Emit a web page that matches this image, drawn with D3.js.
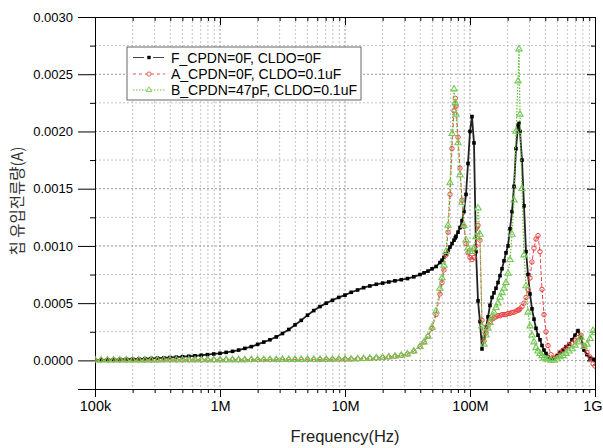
<!DOCTYPE html>
<html>
<head>
<meta charset="utf-8">
<script src="https://cdn.jsdelivr.net/npm/d3@7.9.0/dist/d3.min.js"></script>
<style>
  body { margin: 0; background: #fff; }
  svg { display: block; font-family: "Liberation Sans", Arial, sans-serif; }
</style>
</head>
<body>
<svg id="chart" width="603" height="448"></svg>
<script>
// frequency points (MHz), shared by all three traces
const freqMHz = [
  0.1, 0.112, 0.126, 0.141, 0.158, 0.178, 0.2, 0.224, 0.251, 0.282, 0.316, 0.355, 0.398, 0.447, 0.501, 0.562, 0.631, 0.708, 0.794, 0.891,
  1, 1.12, 1.26, 1.41, 1.58, 1.78, 2, 2.24, 2.51, 2.82, 3.16, 3.55, 3.98, 4.47, 5.01, 5.62, 6.31, 7.08, 7.94, 8.91,
  10, 11.2, 12.6, 14.1, 15.8, 17.8, 20, 22.4, 25.1, 28.2, 31.6, 35.5,
  39.8, 42.9, 46.1, 49.7, 53.5, 57.5, 59.7, 61.9, 64.3, 66.7, 69.2, 71.8, 74.5, 76.3, 77.3, 80.2, 83.2, 86.3, 89.5, 92.9, 96.4,
  100, 103.7, 107.6, 111.7, 115.9, 120.2, 124.7, 129.4, 134.3, 139.3, 144.5, 150, 155.6, 161.4, 167.5, 173.8, 180.3, 187.1, 194.1,
  201.4, 209, 216.8, 225, 233.4, 242.2, 246.7, 251.2, 260.6, 270.4, 280.6, 291.1, 302, 313.3, 325.1, 337.3, 350, 363.1, 376.7, 390.8,
  405.5, 420.7, 444.6, 469.9, 496.6, 524.8, 554.6, 586.1, 619.4, 654.6, 691.8, 731.1, 772.7, 816.6, 863, 912, 963.8, 1000
];

// currents in mA
const fCur = [
  0.004, 0.005, 0.006, 0.007, 0.008, 0.010, 0.012, 0.013, 0.015, 0.017, 0.020, 0.022, 0.025, 0.028, 0.032, 0.036, 0.040, 0.045, 0.050, 0.056,
  0.062, 0.070, 0.079, 0.090, 0.105, 0.120, 0.140, 0.160, 0.180, 0.205, 0.235, 0.270, 0.310, 0.350, 0.395, 0.435, 0.470, 0.500, 0.525, 0.550,
  0.570, 0.595, 0.615, 0.635, 0.650, 0.665, 0.675, 0.685, 0.695, 0.705, 0.715, 0.730,
  0.750, 0.765, 0.780, 0.800, 0.820, 0.855, 0.875, 0.900, 0.930, 0.960, 0.990, 1.020, 1.050, 1.070, 1.085, 1.120, 1.160, 1.220, 1.300, 1.450, 1.720,
  2.000, 2.130, 1.900, 0.950, 0.520, 0.340, 0.100, 0.200, 0.290, 0.380, 0.480, 0.550, 0.590, 0.630, 0.680, 0.740, 0.800, 0.870, 0.940,
  1.000, 1.150, 1.300, 1.520, 1.850, 2.050, 2.070, 2.000, 1.750, 1.350, 0.950, 0.750, 0.580, 0.450, 0.360, 0.280, 0.220, 0.180, 0.130, 0.090,
  0.060, 0.030, 0.010, 0.020, 0.040, 0.070, 0.090, 0.120, 0.140, 0.180, 0.220, 0.260, 0.200, 0.090, 0.050, 0.020, 0.010, 0.000
];

const aCur = [
  0.003, 0.003, 0.003, 0.003, 0.003, 0.003, 0.003, 0.003, 0.003, 0.003, 0.003, 0.004, 0.004, 0.004, 0.004, 0.004, 0.004, 0.004, 0.004, 0.004,
  0.005, 0.005, 0.005, 0.005, 0.005, 0.006, 0.006, 0.006, 0.006, 0.006, 0.007, 0.007, 0.007, 0.007, 0.008, 0.008, 0.008, 0.009, 0.009, 0.010,
  0.010, 0.011, 0.013, 0.015, 0.018, 0.021, 0.025, 0.030, 0.036, 0.044, 0.055, 0.080,
  0.120, 0.160, 0.210, 0.280, 0.400, 0.580, 0.680, 0.790, 0.920, 1.120, 1.450, 1.850, 2.180, 2.290, 2.220, 1.950, 1.680, 1.400, 1.170, 1.020, 0.940,
  0.900, 0.880, 0.900, 1.000, 1.180, 1.050, 0.350, 0.170, 0.240, 0.300, 0.340, 0.360, 0.370, 0.380, 0.390, 0.390, 0.400, 0.400, 0.400,
  0.410, 0.410, 0.420, 0.420, 0.430, 0.440, 0.440, 0.450, 0.470, 0.500, 0.550, 0.620, 0.720, 0.860, 0.980, 1.060, 1.090, 0.950, 0.620, 0.400,
  0.250, 0.130, 0.050, 0.020, 0.040, 0.070, 0.090, 0.110, 0.130, 0.150, 0.170, 0.200, 0.220, 0.130, 0.070, 0.030, -0.030, -0.050
];

const bCur = [
  0.003, 0.003, 0.003, 0.003, 0.003, 0.003, 0.003, 0.003, 0.003, 0.003, 0.003, 0.004, 0.004, 0.004, 0.004, 0.004, 0.004, 0.004, 0.004, 0.004,
  0.005, 0.005, 0.005, 0.005, 0.005, 0.006, 0.006, 0.006, 0.006, 0.006, 0.007, 0.007, 0.007, 0.007, 0.008, 0.008, 0.008, 0.009, 0.009, 0.010,
  0.010, 0.011, 0.013, 0.015, 0.018, 0.021, 0.025, 0.030, 0.036, 0.044, 0.055, 0.080,
  0.120, 0.160, 0.210, 0.290, 0.430, 0.630, 0.720, 0.830, 0.950, 1.180, 1.550, 1.980, 2.370, 2.250, 2.150, 1.900, 1.620, 1.380, 1.180, 1.050, 0.980,
  0.950, 0.950, 0.980, 1.080, 1.330, 1.100, 0.300, 0.140, 0.220, 0.280, 0.330, 0.380, 0.420, 0.460, 0.500, 0.550, 0.590, 0.630, 0.680,
  0.760, 0.880, 1.100, 1.400, 2.000, 2.440, 2.720, 2.150, 1.500, 0.920, 0.650, 0.420, 0.300, 0.220, 0.160, 0.110, 0.080, 0.060, 0.040, 0.020,
  0.010, 0.010, 0.000, 0.000, 0.010, 0.030, 0.040, 0.060, 0.080, 0.100, 0.130, 0.160, 0.200, 0.120, 0.140, 0.190, 0.260, 0.240
];

const seriesNames = ["F_CPDN=0F, CLDO=0F", "A_CPDN=0F, CLDO=0.1uF", "B_CPDN=47pF, CLDO=0.1uF"];
const xTickValues = [1e5, 1e6, 1e7, 1e8, 1e9];
const xTickLabels = ["100k", "1M", "10M", "100M", "1G"];
const yTickValues = [0, 0.0005, 0.001, 0.0015, 0.002, 0.0025, 0.003];
const yMinorValues = [-0.00025, 0.00025, 0.00075, 0.00125, 0.00175, 0.00225, 0.00275];

const plotL = 95, plotR = 595, plotT = 17, plotB = 389;
const svg = d3.select('#chart');

const x = d3.scaleLog().domain([1e5, 1e9]).range([plotL, plotR]);
const y = d3.scaleLinear().domain([-0.00025, 0.003]).range([plotB, plotT]);

// minor log ticks 2..9 per decade
let xMinor = [];
xTickValues.slice(0, -1).forEach(d => {
  for (let k = 2; k <= 9; k++) xMinor.push(d * k);
});

// grid
const grid = svg.append('g');
xMinor.concat(xTickValues.slice(1, -1)).forEach(v => {
  grid.append('line')
    .attr('x1', x(v)).attr('x2', x(v)).attr('y1', plotT).attr('y2', plotB)
    .attr('stroke', xTickValues.includes(v) ? '#999' : '#c4c4c4')
    .attr('stroke-dasharray', '2,2');
});
yTickValues.slice(0, -1).concat(yMinorValues.slice(1)).forEach(v => {
  grid.append('line')
    .attr('x1', plotL).attr('x2', plotR).attr('y1', y(v)).attr('y2', y(v))
    .attr('stroke', yTickValues.includes(v) ? '#999' : '#c4c4c4')
    .attr('stroke-dasharray', '2,2');
});

// axes
function styleAxis(g) {
  g.selectAll('.domain').attr('stroke', '#000');
  g.selectAll('.tick line').attr('stroke', '#000');
  g.selectAll('text').attr('fill', '#000');
}

svg.append('g').attr('transform', `translate(0,${plotB})`)
  .call(d3.axisBottom(x).tickValues(xTickValues).tickSize(8).tickPadding(4)
    .tickFormat((d, i) => xTickLabels[i]))
  .call(g => g.selectAll('text').attr('font-size', 14.5).attr('font-family', '"Liberation Sans", Arial, sans-serif'))
  .call(g => g.selectAll('text').filter(d => d === 1e9).attr('text-anchor', 'end').attr('dx', 7))
  .call(styleAxis);
svg.append('g').attr('transform', `translate(0,${plotB})`)
  .call(d3.axisBottom(x).tickValues(xMinor).tickSize(4).tickFormat(''))
  .call(g => g.select('.domain').remove()).call(styleAxis);

svg.append('g').attr('transform', `translate(0,${plotT})`)
  .call(d3.axisTop(x).tickValues(xTickValues).tickSizeInner(-8).tickSizeOuter(0).tickFormat(''))
  .call(styleAxis);
svg.append('g').attr('transform', `translate(0,${plotT})`)
  .call(d3.axisTop(x).tickValues(xMinor).tickSizeInner(-4).tickSizeOuter(0).tickFormat(''))
  .call(g => g.select('.domain').remove()).call(styleAxis);

svg.append('g').attr('transform', `translate(${plotL},0)`)
  .call(d3.axisLeft(y).tickValues(yTickValues).tickSize(17).tickPadding(5).tickFormat(d3.format('.4f')))
  .call(g => g.selectAll('text').attr('font-size', 13).attr('font-family', '"Liberation Sans", Arial, sans-serif'))
  .call(styleAxis);
svg.append('g').attr('transform', `translate(${plotL},0)`)
  .call(d3.axisLeft(y).tickValues(yMinorValues).tickSize(5).tickFormat(''))
  .call(g => g.select('.domain').remove()).call(styleAxis);

svg.append('g').attr('transform', `translate(${plotR},0)`)
  .call(d3.axisRight(y).tickValues(yTickValues).tickSizeInner(-8).tickSizeOuter(0).tickFormat(''))
  .call(styleAxis);
svg.append('g').attr('transform', `translate(${plotR},0)`)
  .call(d3.axisRight(y).tickValues(yMinorValues).tickSizeInner(-4).tickSizeOuter(0).tickFormat(''))
  .call(g => g.select('.domain').remove()).call(styleAxis);

// axis titles
svg.append('text')
  .attr('x', (plotL + plotR) / 2).attr('y', 442)
  .attr('text-anchor', 'middle').attr('font-size', 16.5).attr('fill', '#222')
  .text('Frequency(Hz)');
svg.append('text')
  .attr('transform', 'translate(23,201) rotate(-90)')
  .attr('text-anchor', 'middle').attr('font-size', 15.5)
  .attr('font-family', '"Noto Sans CJK KR", sans-serif').attr('fill', '#333')
  .text('칩 유입전류량(A)');

// traces
svg.append('clipPath').attr('id', 'plotclip')
  .append('rect').attr('x', plotL).attr('y', plotT).attr('width', plotR - plotL).attr('height', plotB - plotT);
const plot = svg.append('g').attr('clip-path', 'url(#plotclip)');

const idx = d3.range(freqMHz.length);
const lineOf = vals => d3.line()
  .x(i => x(freqMHz[i] * 1e6))
  .y(i => y(vals[i] * 1e-3));

// F: black squares
plot.append('path').attr('d', lineOf(fCur)(idx))
  .attr('fill', 'none').attr('stroke', '#222').attr('stroke-width', 1.8);
plot.selectAll('.sq').data(idx).join('rect')
  .attr('x', i => x(freqMHz[i] * 1e6) - 1.8).attr('y', i => y(fCur[i] * 1e-3) - 1.8)
  .attr('width', 3.6).attr('height', 3.6).attr('fill', '#000');

// A: red open circles, dashed
plot.append('path').attr('d', lineOf(aCur)(idx))
  .attr('fill', 'none').attr('stroke', '#f04848').attr('stroke-width', 1).attr('stroke-dasharray', '4,2');
plot.selectAll('.ci').data(idx).join('circle')
  .attr('cx', i => x(freqMHz[i] * 1e6)).attr('cy', i => y(aCur[i] * 1e-3)).attr('r', 2.2)
  .attr('fill', 'none').attr('stroke', '#e84040').attr('stroke-width', 1);

// B: green open triangles, dotted
const tri = d3.symbol().type(d3.symbolTriangle).size(17);
plot.append('path').attr('d', lineOf(bCur)(idx))
  .attr('fill', 'none').attr('stroke', '#66c23a').attr('stroke-width', 1.2).attr('stroke-dasharray', '1.5,1.5');
plot.selectAll('.tr').data(idx).join('path')
  .attr('d', tri)
  .attr('transform', i => `translate(${x(freqMHz[i] * 1e6)},${y(bCur[i] * 1e-3)})`)
  .attr('fill', 'none').attr('stroke', '#74c957').attr('stroke-width', 1.1);

// legend
const lg = svg.append('g');
lg.append('rect').attr('x', 127).attr('y', 47).attr('width', 234).attr('height', 53)
  .attr('fill', '#fff').attr('stroke', '#666').attr('stroke-width', 1);
const rows = [57.5, 74, 90];
rows.forEach((ry, k) => {
  lg.append('text').attr('x', 171).attr('y', ry + 5).attr('font-size', 14).attr('fill', '#000')
    .text(seriesNames[k]);
});
lg.append('line').attr('x1', 133).attr('x2', 165).attr('y1', rows[0]).attr('y2', rows[0])
  .attr('stroke', '#444').attr('stroke-dasharray', '11,9');
lg.append('rect').attr('x', 147.3).attr('y', rows[0] - 1.7).attr('width', 3.4).attr('height', 3.4).attr('fill', '#000');
lg.append('line').attr('x1', 133).attr('x2', 165).attr('y1', rows[1]).attr('y2', rows[1])
  .attr('stroke', '#f05050').attr('stroke-dasharray', '3,3');
lg.append('circle').attr('cx', 149).attr('cy', rows[1]).attr('r', 2.1)
  .attr('fill', '#fff').attr('stroke', '#e84848').attr('stroke-width', 0.9);
lg.append('line').attr('x1', 133).attr('x2', 165).attr('y1', rows[2]).attr('y2', rows[2])
  .attr('stroke', '#66c23a').attr('stroke-dasharray', '1.5,1.5');
lg.append('path').attr('d', d3.symbol().type(d3.symbolTriangle).size(13)).attr('transform', `translate(149,${rows[2]})`)
  .attr('fill', '#fff').attr('stroke', '#74c957').attr('stroke-width', 0.9);
</script>
</body>
</html>
